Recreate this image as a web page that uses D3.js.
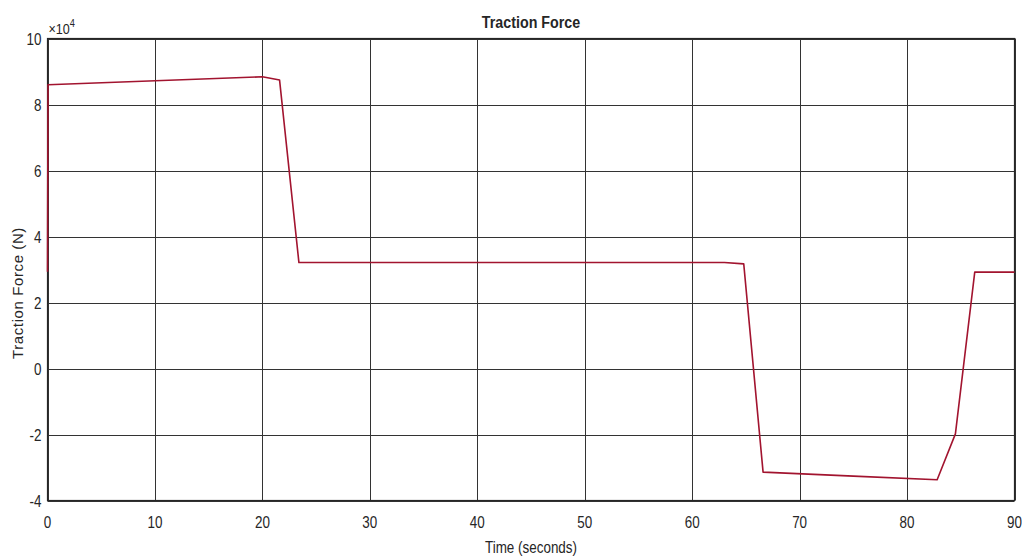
<!DOCTYPE html>
<html>
<head>
<meta charset="utf-8">
<script src="https://cdn.jsdelivr.net/npm/d3@7"></script>
<style>
  body { margin: 0; background: #fff; }
  text { font-family: "Liberation Sans", Arial, sans-serif; fill: #262626; }
</style>
</head>
<body>
<svg id="chart" width="1022" height="559"></svg>
<script>
// time (s) and traction force (x 10^4 N)
var times  = [0, 0.05, 20, 21.6, 23.4, 63, 64.8, 66.6, 75, 82.8, 84.5, 86.3, 90];
var forces = [2.93, 8.6, 8.84, 8.74, 3.21, 3.21, 3.17, -3.14, -3.26, -3.37, -1.98, 2.92, 2.92];
var xTicks = [0, 10, 20, 30, 40, 50, 60, 70, 80, 90];
var yTicks = [-4, -2, 0, 2, 4, 6, 8, 10];

var margin = {left: 47.5, top: 38.5, right: 1014.5, bottom: 500.5};
var svg = d3.select('#chart');
var squeeze = 0.84; // the reference text is horizontally narrow

var x = d3.scaleLinear().domain([0, 90]).range([margin.left, margin.right]);
var y = d3.scaleLinear().domain([-4, 10]).range([margin.bottom, margin.top]);

function at(px, py) {
  return 'translate(' + px + ',' + py + ') scale(' + squeeze + ',1)';
}

// grid
svg.append('g').selectAll('line').data(xTicks).enter().append('line')
    .attr('x1', function(d){ return Math.round(x(d)) + 0.5; })
    .attr('x2', function(d){ return Math.round(x(d)) + 0.5; })
    .attr('y1', margin.top).attr('y2', margin.bottom)
    .attr('stroke', '#333').attr('stroke-width', 1);
svg.append('g').selectAll('line').data(yTicks).enter().append('line')
    .attr('y1', function(d){ return Math.round(y(d)) + 0.5; })
    .attr('y2', function(d){ return Math.round(y(d)) + 0.5; })
    .attr('x1', margin.left).attr('x2', margin.right)
    .attr('stroke', '#333').attr('stroke-width', 1);

// box
svg.append('rect')
    .attr('x', margin.left).attr('y', margin.top)
    .attr('width', margin.right - margin.left).attr('height', margin.bottom - margin.top)
    .attr('fill', 'none').attr('stroke', '#262626').attr('stroke-width', 1.2);

// tick labels
svg.append('g').selectAll('text').data(xTicks).enter().append('text')
    .attr('transform', function(d){ return at(x(d), margin.bottom + 27); })
    .attr('text-anchor', 'middle')
    .style('font-size', '16px')
    .text(function(d){ return d; });
svg.append('g').selectAll('text').data(yTicks).enter().append('text')
    .attr('transform', function(d){ return at(margin.left - 6, y(d) + 6); })
    .attr('text-anchor', 'end')
    .style('font-size', '16px')
    .text(function(d){ return d; });

// exponent
var ex = svg.append('text').attr('transform', at(margin.left + 1, margin.top - 5))
    .style('font-size', '15px');
ex.append('tspan').text('\u00d710');
ex.append('tspan').attr('dy', -7).style('font-size', '11px').text('4');

// line
var line = d3.line()
    .x(function(d){ return x(d[0]); })
    .y(function(d){ return y(d[1]); });
svg.append('path')
    .datum(d3.zip(times, forces))
    .attr('d', line)
    .attr('fill', 'none')
    .attr('stroke', '#A2142F')
    .attr('stroke-width', 1.6)
    .attr('stroke-linejoin', 'round');

// labels
svg.append('text')
    .attr('transform', at((margin.left + margin.right) / 2, 28))
    .attr('text-anchor', 'middle')
    .style('font-size', '17px').style('font-weight', 'bold')
    .text('Traction Force');
svg.append('text')
    .attr('transform', at((margin.left + margin.right) / 2, 553))
    .attr('text-anchor', 'middle')
    .style('font-size', '16px')
    .text('Time (seconds)');
svg.append('text')
    .attr('transform', 'translate(23,' + 293 + ') rotate(-90)')
    .attr('text-anchor', 'middle')
    .style('font-size', '15px').style('letter-spacing', '0.6px')
    .text('Traction Force (N)');
</script>
</body>
</html>
